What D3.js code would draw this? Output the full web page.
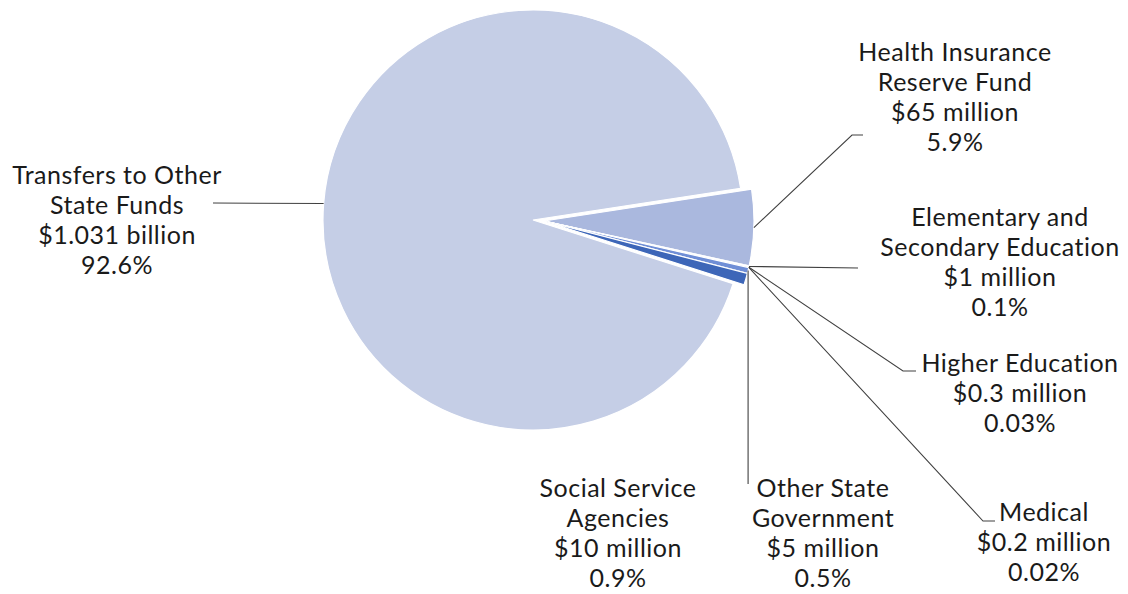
<!DOCTYPE html>
<html><head><meta charset="utf-8">
<script src="https://cdn.jsdelivr.net/npm/d3@7"></script>
<style>body{margin:0;background:#fff}svg{display:block}text{font-family:Lato,"Noto Sans",sans-serif;fill:#1a1a1a}</style>
</head><body><svg id="c" width="1128" height="594"></svg>
<script>
const categories = ["Health Insurance Reserve Fund","Elementary and Secondary Education","Higher Education","Medical","Other State Government","Social Service Agencies","Transfers to Other State Funds"];
const values = [65, 1, 0.3, 0.2, 5, 10, 1031];
const amountLabels = ["$65 million","$1 million","$0.3 million","$0.2 million","$5 million","$10 million","$1.031 billion"];
const percentLabels = ["5.9%","0.1%","0.03%","0.02%","0.5%","0.9%","92.6%"];
const nameLines = [["Health Insurance","Reserve Fund"],["Elementary and","Secondary Education"],["Higher Education"],["Medical"],["Other State","Government"],["Social Service","Agencies"],["Transfers to Other","State Funds"]];
const colors = ["#aab8de","#8ea4da","#8ea4da","#8ea4da","#6f8ed6","#3d66b8","#c5cee6"];

const svg = d3.select("#c");
const cx = 533, cy = 220, R = 210;
const off = [11, 1]; // detached group offset
const start = 81.3 * Math.PI / 180;
const pie = d3.pie().sort(null).startAngle(start).endAngle(start + 2*Math.PI);
const arcs = pie(values);
const arc = d3.arc().innerRadius(0).outerRadius(R);

const g = svg.append("g").attr("transform", `translate(${cx},${cy})`);
g.selectAll("path").data(arcs).join("path")
  .attr("d", arc)
  .attr("transform", (d,i) => i === 6 ? null : `translate(${off[0]},${off[1]})`)
  .attr("fill", (d,i) => colors[i])
  .attr("stroke", "#fff").attr("stroke-width", 1.2);

const layout = [
  {x:955, y:53,  pts:[[852,135],[863,135]]},
  {x:1000, y:218, pts:[[858,268]]},
  {x:1020, y:364, pts:[[903,371],[916,371]]},
  {x:1044, y:513, pts:[[983,521],[995,521]]},
  {x:823, y:489, pts:[[null,484]]},
  {x:618, y:489, pts:null},
  {x:117, y:176, pts:[[213,203]]}
];
const lh = 30;
arcs.forEach((d,i) => {
  const L = layout[i];
  const mid = (d.startAngle + d.endAngle)/2;
  const ox = i === 6 ? 0 : off[0], oy = i === 6 ? 0 : off[1];
  const p0 = [cx + ox + R*Math.sin(mid), cy + oy - R*Math.cos(mid)];
  if (L.pts) {
    const pts = [p0].concat(L.pts.map(p => [p[0] === null ? p0[0] : p[0], p[1]]));
    svg.append("path").attr("d", d3.line()(pts)).attr("fill","none").attr("stroke","#404040").attr("stroke-width",1.1);
  }
  const lines = nameLines[i].concat([amountLabels[i], percentLabels[i]]);
  const t = svg.append("text").attr("text-anchor","middle").attr("font-size",25).attr("letter-spacing","0.5px");
  lines.forEach((s,k) => t.append("tspan").attr("x", L.x).attr("y", L.y + k*lh).attr("dy","0.33em").text(s));
});
</script></body></html>
